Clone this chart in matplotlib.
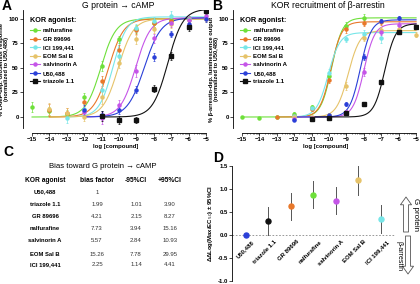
import numpy as np
import matplotlib
matplotlib.use("Agg")
import matplotlib.pyplot as plt
import matplotlib.transforms as mtransforms
from matplotlib.lines import Line2D

plt.rcParams["font.family"] = ["Liberation Sans", "DejaVu Sans"]

NAMES = ["nalfurafine", "GR 89696", "ICI 199,441", "EOM Sal B", "salvinorin A", "U50,488", "triazole 1.1"]
COLORS = ["#6ee03a", "#e8782a", "#77e6e8", "#e6c36a", "#c555e8", "#2a3fd8", "#111111"]

# Panel A: G protein -> cAMP (x = log conc, y = % response, err = SEM)
A_X = [
    [-15, -14, -13, -12, -11, -10, -9, -8, -7, -6],
    [-14, -13, -12, -11, -10, -9, -8, -7, -6],
    [-13, -12, -11, -10, -9, -8, -7, -6],
    [-14, -13, -12, -11, -10, -9, -8, -7, -6, -5],
    [-12, -11, -10, -9, -8, -7, -6, -5],
    [-12, -11, -10, -9, -8, -7, -6, -5],
    [-11, -10, -9, -8, -7, -6, -5],
]
A_Y = [
    [10, 6, 3, 20, 52, 79, 90, 96, 99, 100],
    [7, 4, 15, 37, 68, 89, 96, 98, 100],
    [-1, 8, 28, 62, 91, 98, 103, 100],
    [8, 4, 0, 20, 55, 79, 90, 95, 99, 100],
    [5, -1, 12, 47, 80, 96, 99, 103],
    [7, 2, 7, 28, 61, 85, 95, 100],
    [1, -3, -3, 29, 62, 92, 108],
]
A_ERR = [
    [5, 4, 4, 4, 5, 4, 4, 4, 4, 3],
    [6, 5, 4, 5, 5, 4, 4, 3, 3],
    [5, 5, 8, 5, 4, 4, 5, 3],
    [6, 5, 4, 7, 5, 5, 4, 4, 3, 3],
    [4, 6, 5, 6, 5, 4, 4, 4],
    [5, 4, 4, 4, 4, 3, 3, 3],
    [5, 4, 3, 4, 4, 4, 3],
]
# fitted curve parameters: bottom, top, logEC50, hill slope
A_FIT = [
    [0, 100, -11.05, 1.0],
    [0, 100, -10.6, 1.0],
    [0, 102, -10.35, 1.1],
    [0, 100, -10.05, 1.0],
    [0, 101, -9.05, 1.0],
    [0, 101, -8.55, 0.9],
    [0, 110, -7.2, 1.0],
]

# Panel B: beta-arrestin recruitment
B_X = [
    [-15, -14, -13, -12, -11, -10, -9, -8],
    [-13, -12, -11, -10, -9, -8, -7],
    [-12, -11, -10, -9, -8, -7],
    [-12, -11, -10, -9, -8, -7, -6, -5],
    [-12, -11, -10, -9, -8, -7, -6],
    [-12, -11, -10, -9, -8, -7, -6],
    [-11, -10, -9, -8, -7, -6, -5],
]
B_Y = [
    [0, -1, 0, 3, 10, 42, 93, 101],
    [0, 1, 8, 38, 90, 96, 97],
    [1, 9, 45, 79, 85, 80],
    [0, 0, 2, 32, 80, 89, 90, 84],
    [-2, -1, 1, 5, 46, 87, 94],
    [-3, -2, 2, 13, 61, 98, 101],
    [-2, -1, 4, 13, 36, 87, 92],
]
B_ERR = [
    [1, 1, 1, 2, 2, 4, 4, 4],
    [1, 1, 2, 3, 4, 3, 3],
    [1, 2, 4, 3, 4, 5],
    [1, 1, 2, 4, 3, 3, 3, 3],
    [1, 1, 1, 2, 4, 3, 3],
    [1, 1, 1, 2, 3, 2, 2],
    [1, 1, 1, 1, 1, 1, 1],
]
B_FIT = [
    [0, 101, -9.85, 1.4],
    [0, 97, -9.9, 1.4],
    [0, 86, -10.05, 1.3],
    [0, 88, -8.9, 1.3],
    [0, 95, -8.0, 1.4],
    [0, 99, -8.2, 1.4],
    [0, 95, -6.8, 1.4],
]

# Panel C: bias table
C_AGONISTS = ["U50,488", "triazole 1.1", "GR 89696", "nalfurafine", "salvinorin A", "EOM Sal B", "ICI 199,441"]
C_BIAS = ["1", "1.99", "4.21", "7.73", "5.57", "15.26", "2.25"]
C_LOW = ["", "1.01", "2.15", "3.94", "2.84", "7.78", "1.14"]
C_HIGH = ["", "3.90", "8.27", "15.16", "10.93", "29.95", "4.41"]

# Panel D: delta delta log(Max/EC50) with 95% CI
D_LABELS = ["U50,488", "triazole 1.1", "GR 89696", "nalfurafine", "salvinorin A", "EOM Sal B", "ICI 199,441"]
D_VALUES = [0.0, 0.30, 0.62, 0.88, 0.74, 1.19, 0.35]
D_LOW = [0.0, 0.0, 0.33, 0.58, 0.45, 0.88, 0.05]
D_HIGH = [0.0, 0.60, 0.92, 1.18, 1.05, 1.50, 0.65]
D_COLORS = ["#2a3fd8", "#111111", "#e8782a", "#6ee03a", "#c555e8", "#e6c36a", "#77e6e8"]

W, H = 420, 284


def px(x, y):
    # top-left pixel coords -> figure fraction
    return x / W, 1 - y / H


def hill(x, bottom, top, logec50, slope):
    return bottom + (top - bottom) / (1 + 10 ** ((logec50 - x) * slope))


def dose_panel(fig, left, xs, ys, errs, fits, ylabel, title, letter):
    ax = fig.add_axes([left / W, 1 - 128 / H, 185 / W, 118 / H])
    handles = []
    for i in range(len(NAMES)):
        x = np.array(xs[i])
        xx = np.linspace(x.min(), -5, 200)
        ax.plot(xx, hill(xx, *fits[i]), color=COLORS[i], lw=0.8, zorder=2)
        marker = "s" if i == 6 else "o"
        ax.errorbar(x, ys[i], yerr=errs[i], fmt=marker, color=COLORS[i], ms=2.2,
                    elinewidth=0.5, capsize=1, capthick=0.5, zorder=3)
        handles.append(Line2D([], [], color=COLORS[i], marker=marker, ms=2.2, lw=0.8))
    ax.set_xlim(-15.52, -4.89)
    ax.set_ylim(-11.2, 109)
    ax.spines[["top", "right"]].set_visible(False)
    ax.spines["bottom"].set_position(("outward", 3.6))
    ax.spines["bottom"].set_bounds(-15, -5)
    for s in ["left", "bottom"]:
        ax.spines[s].set_linewidth(0.6)
    ax.set_xticks(range(-15, -4))
    minor = [d + np.log10(k) for d in range(-15, -5) for k in range(2, 10)]
    ax.set_xticks(minor, minor=True)
    ax.set_yticks([0, 25, 50, 75, 100])
    ax.tick_params(labelsize=4.3, length=2, width=0.5, pad=1)
    ax.tick_params(which="minor", length=1, width=0.4)
    for t in ax.get_xticklabels() + ax.get_yticklabels():
        t.set_fontweight("bold")
    ax.set_xlabel("log [compound]", fontsize=4.3, fontweight="bold", labelpad=1.5)
    ax.set_ylabel(ylabel, fontsize=4.1, fontweight="bold", linespacing=1.0)
    ax.yaxis.set_label_coords(-0.075, 0.5)
    leg = ax.legend(handles, NAMES, loc="upper left", bbox_to_anchor=px(left + 4, 14),
                    bbox_transform=fig.transFigure, frameon=False,
                    prop={"weight": "bold", "size": 4.3}, title="KOR agonist:",
                    title_fontproperties={"weight": "bold", "size": 5.2},
                    handlelength=1.6, labelspacing=0.55, alignment="left",
                    borderpad=0, handletextpad=0.6)
    leg._legend_box.sep = 3
    fig.text(*px(left + 95, 6), title, fontsize=6.2, ha="center", va="center")
    fig.text(*px(left - 21, 6), letter, fontsize=10, fontweight="bold", ha="left", va="center")
    return ax


fig = plt.figure(figsize=(W / 100, H / 100), dpi=100)

dose_panel(fig, 23, A_X, A_Y, A_ERR, A_FIT,
           "% cAMP-dep. GloSensor response\n(normalized to U50,488)", "G protein \u2192 cAMP", "A")
dose_panel(fig, 233, B_X, B_Y, B_ERR, B_FIT,
           "% \u03b2-arrestin-dep. luminescence output\n(normalized to U50,488)",
           "KOR recruitment of \u03b2-arrestin", "B")

# Panel C table
fig.text(*px(3, 152), "C", fontsize=10, fontweight="bold", ha="left", va="center")
fig.text(*px(103, 167), "Bias toward G protein \u2192 cAMP", fontsize=5.6, ha="center", va="center")
col_x = [45, 97, 136, 170]
headers = ["KOR agonist", "bias factor", "-95%CI", "+95%CI"]
for cx, h in zip(col_x, headers):
    fig.text(*px(cx, 180), h, fontsize=4.8, fontweight="bold", ha="center", va="center")
row_y = [192, 204, 217, 229, 241, 254, 265]
for i, ry in enumerate(row_y):
    fig.text(*px(col_x[0], ry), C_AGONISTS[i], fontsize=4.2, fontweight="bold", ha="center", va="center")
    fig.text(*px(col_x[1], ry), C_BIAS[i], fontsize=4.3, color="#333333", ha="center", va="center")
    fig.text(*px(col_x[2], ry), C_LOW[i], fontsize=4.3, color="#333333", ha="center", va="center")
    fig.text(*px(col_x[3], ry), C_HIGH[i], fontsize=4.3, color="#333333", ha="center", va="center")

# Panel D
axd = fig.add_axes([232 / W, 1 - 281 / H, 166 / W, 115 / H])
pos = np.arange(len(D_LABELS))
for i in range(len(D_LABELS)):
    axd.plot([pos[i], pos[i]], [D_LOW[i], D_HIGH[i]], color="#555555", lw=0.7, zorder=2)
    axd.plot(pos[i], D_VALUES[i], "o", color=D_COLORS[i], ms=3.6, zorder=3)
axd.axhline(0, xmin=0, xmax=0.98, color="#888888", lw=0.6, ls=(0, (2, 2)), zorder=1)
axd.set_xlim(-0.62, 6.76)
axd.set_ylim(-1.0, 1.5)
axd.spines[["top", "right"]].set_visible(False)
axd.spines["bottom"].set_position(("data", 0))
axd.spines["bottom"].set_visible(False)
axd.spines["left"].set_linewidth(0.6)
axd.set_yticks([-1.0, -0.5, 0.0, 0.5, 1.0, 1.5])
axd.set_yticklabels(["-1.0", "-0.5", "0.0", "0.5", "1.0", "1.5"], fontweight="bold")
axd.set_xticks(pos)
axd.set_xticklabels(D_LABELS, rotation=45, ha="right", rotation_mode="anchor", fontweight="bold")
axd.tick_params(axis="y", labelsize=4.3, length=2, width=0.5, pad=1)
axd.tick_params(axis="x", labelsize=4.3, length=0, pad=3)
shift = mtransforms.ScaledTranslation(4 / 72, 0, fig.dpi_scale_trans)
for t in axd.get_xticklabels():
    t.set_transform(t.get_transform() + shift)
axd.set_ylabel("\u0394\u0394Log(Max/EC$_{50}$) \u00b1 95%CI", fontsize=4.3, fontweight="bold", labelpad=2)
fig.text(*px(213, 158), "D", fontsize=10, fontweight="bold", ha="left", va="center")

# direction arrows
arrow = dict(arrowstyle="simple,head_width=1.0,head_length=0.7,tail_width=0.45",
             fc="white", ec="#555555", lw=0.6, mutation_scale=8, shrinkA=0, shrinkB=0)
axd.annotate("", xy=(406, H - 197), xytext=(406, H - 232), xycoords="figure pixels",
             textcoords="figure pixels", arrowprops=arrow)
axd.annotate("", xy=(408, H - 274), xytext=(408, H - 236), xycoords="figure pixels",
             textcoords="figure pixels", arrowprops=arrow)
fig.text(*px(415, 214), "G protein", fontsize=5.8, rotation=270, ha="center", va="center")
fig.text(*px(399, 256), "\u03b2-arrestin", fontsize=5, rotation=270, ha="center", va="center")

fig.savefig("out.png", dpi=100)
